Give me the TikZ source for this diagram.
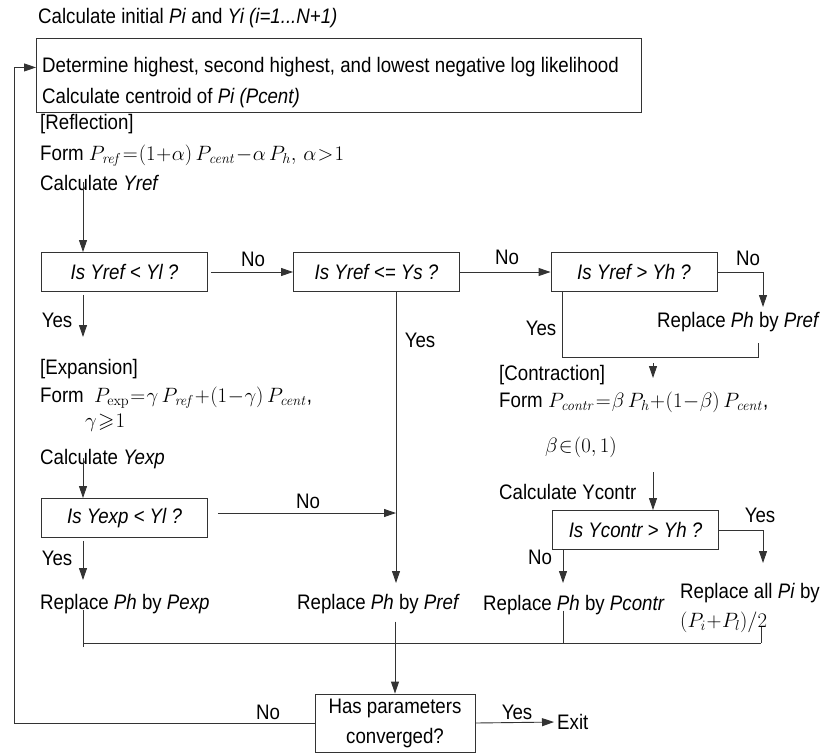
\documentclass[tikz,border=0pt]{standalone}
\usepackage{amsmath}
\usepackage{amssymb}
\usepackage[no-math]{fontspec}
\setmainfont{Liberation Sans}[FakeStretch=0.89]
\usetikzlibrary{arrows.meta, positioning, calc}

\begin{document}
\thickmuskip=1mu
\medmuskip=0.5mu
\begin{tikzpicture}[x=1pt, y=-1pt,
    every node/.style={font=\fontsize{21}{30}\selectfont, inner sep=0pt},
    txt/.style={anchor=base west, align=left},
    lbl/.style={anchor=base},
    test/.style={rectangle, draw=black!80, line width=0.9pt, minimum width=166pt, minimum height=39pt, font=\fontsize{21}{30}\selectfont\itshape},
    arr/.style={-{Triangle[length=12pt, width=8pt]}, line width=0.9pt, black!80},
    wire/.style={line width=0.9pt, black!80},
]
    \useasboundingbox (0,0) rectangle (837,753);

    % Top: start text and ranking box
    \node[txt] (start) at (38,23) {Calculate initial \textit{Pi} and \textit{Yi (i=1...N+1)}};
    \node[rectangle, draw=black!80, line width=0.9pt, anchor=north west, minimum width=605pt, minimum height=74pt] (rank) at (36,38) {};
    \node[txt] (rank1) at (42,72)  {Determine highest, second highest, and lowest negative log likelihood};
    \node[txt] (rank2) at (42,103) {Calculate centroid of \textit{Pi (Pcent)}};

    % Reflection step
    \node[txt] (refl)  at (40,129) {[Reflection]};
    \node[txt] (formr) at (40,160) {Form $P_{\mathit{ref}}=(1+\alpha)\,P_{\mathit{cent}}-\alpha\,P_h,\,\alpha>1$};
    \node[txt] (calcr) at (40,190) {Calculate \textit{Yref}};

    % Row 1: three tests on Yref
    \node[test] (yl) at (124.5,272) {Is Yref < Yl ?};
    \node[test] (ys) at (376.5,272) {Is Yref <= Ys ?};
    \node[test] (yh) at (634,272)   {Is Yref > Yh ?};

    % Expansion step
    \node[txt] (expa)  at (40,374) {[Expansion]};
    \node[txt] (forme) at (40,402) {Form \ $P_{\exp}=\gamma\,P_{\mathit{ref}}+(1-\gamma)\,P_{\mathit{cent}}$,};
    \node[txt] (gam)   at (85,427) {$\gamma\geqslant 1$};
    \node[txt] (calce) at (40,464) {Calculate \textit{Yexp}};
    \node[test] (ye) at (124.5,518) {Is Yexp < Yl ?};

    % Contraction step
    \node[txt] (rpr)   at (657,327) {Replace \textit{Ph} by \textit{Pref}};
    \node[txt] (contr) at (499,380) {[Contraction]};
    \node[txt] (formc) at (499,407) {Form $P_{\mathit{contr}}=\beta\,P_h+(1-\beta)\,P_{\mathit{cent}}$,};
    \node[txt] (bet)   at (545,452) {$\beta\in(0,1)$};
    \node[txt] (calcc) at (499,499) {Calculate Ycontr};
    \node[test] (yc) at (635.5,530) {Is Ycontr > Yh ?};

    % Row of replacements
    \node[txt] (rpe)  at (40,609)  {Replace \textit{Ph} by \textit{Pexp}};
    \node[txt] (rpm)  at (297,609) {Replace \textit{Ph} by \textit{Pref}};
    \node[txt] (rpc)  at (483,610) {Replace \textit{Ph} by \textit{Pcontr}};
    \node[txt] (rpi)  at (680,598) {Replace all \textit{Pi} by};
    \node[txt] (pavg) at (680,627) {$(P_i+P_l)/2$};

    % Convergence test and exit
    \node[rectangle, draw=black!80, line width=0.9pt, minimum width=160pt, minimum height=58pt, align=center] (conv) at (395,723) {Has parameters\\converged?};
    \node[anchor=west] (exit) at (557,722) {Exit};

    % Yes / No labels
    \node[lbl] at (253,266) {No};
    \node[lbl] at (507,264) {No};
    \node[lbl] at (748,265) {No};
    \node[lbl] at (57,327)  {Yes};
    \node[lbl] at (420,347) {Yes};
    \node[lbl] at (541,335) {Yes};
    \node[lbl] at (308,508) {No};
    \node[lbl] at (57,565)  {Yes};
    \node[lbl] at (760,522) {Yes};
    \node[lbl] at (540,564) {No};
    \node[lbl] at (268,719) {No};
    \node[lbl] at (517,719) {Yes};

    % Corner points
    \coordinate (r0) at (83,182);
    \coordinate (y1) at (83,337);
    \coordinate (e0) at (83,458);
    \coordinate (y2) at (83,580);
    \coordinate (n3) at (763,307);
    \coordinate (l0) at (562,357);
    \coordinate (l1) at (758,343);
    \coordinate (c0) at (653,363);
    \coordinate (c1) at (653,472);
    \coordinate (y4) at (763,563);
    \coordinate (n4) at (563,583);
    \coordinate (mid) at (396,583);
    \coordinate (bl) at (83,643);
    \coordinate (bc) at (563,643);
    \coordinate (br) at (761,643);
    \coordinate (b4) at (761,627);
    \coordinate (fb) at (14,722);

    % Arrows down the left column
    \draw[arr] (r0) -- (r0 |- yl.north);
    \draw[arr] ([yshift=-3pt]yl.south -| y1) -- (y1);
    \draw[arr] (e0) -- (e0 |- ye.north);
    \draw[arr] ([yshift=-3pt]ye.south -| y2) -- (y2);

    % Arrows along row 1
    \draw[arr] ([xshift=3pt]yl.east) -- (ys.west);
    \draw[arr] (ys.east) -- (yh.west);
    \draw[arr] (yh.east) -| (n3);
    \draw[wire] (l0 |- yh.south) -- (l0) -| (l1);
    \draw[arr] (c0) -- ++(0,15);

    % Middle branch
    \draw[arr] (mid |- ys.south) -- (mid);
    \draw[arr] ([xshift=10pt,yshift=5pt]ye.east) -- ([yshift=5pt]ye.east -| mid);

    % Contraction test
    \draw[arr] (c1) -- (c1 |- yc.north);
    \draw[arr] (yc.east) -| (y4);
    \draw[arr] (n4 |- yc.south) -- (n4);

    % Collector line
    \draw[wire] ([yshift=4pt]rpe.south -| bl) -- ([yshift=-4pt]bl);
    \draw[wire] (bl) -- (br);
    \draw[wire] ([yshift=4pt]rpc.south -| bc) -- (bc);
    \draw[wire] (b4) -- (br);
    \draw[arr] ([yshift=-8pt]rpm.south -| conv.north) -- (conv.north);

    % Convergence exits
    \draw[arr] (conv.west) -- (conv.west -| fb) |- ([yshift=8pt]rank.west);
    \draw[arr, shorten >=3pt] (conv.east) -- (exit.west);
\end{tikzpicture}
\end{document}
